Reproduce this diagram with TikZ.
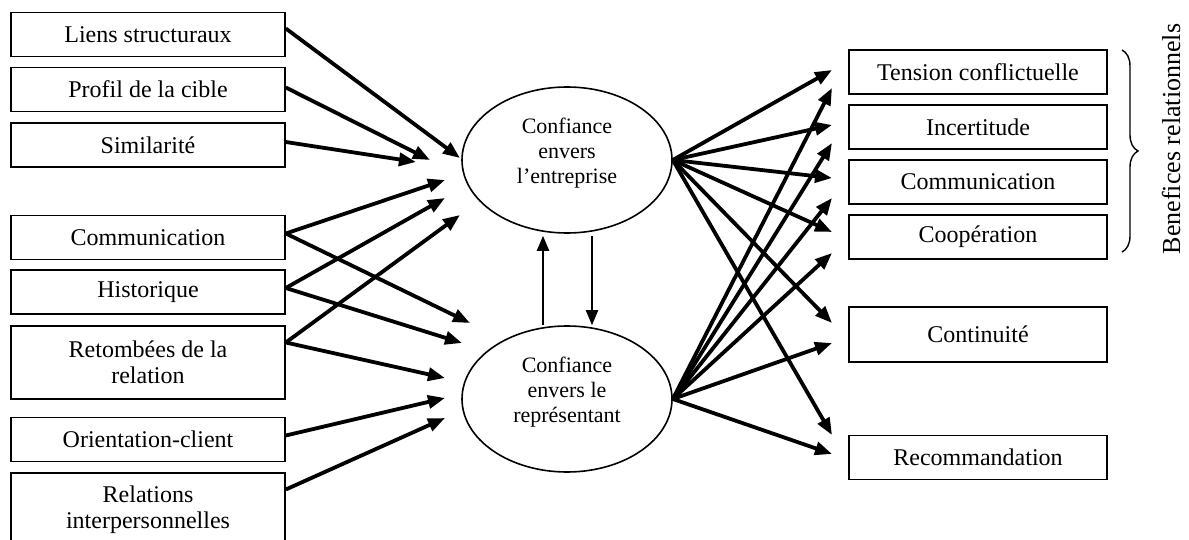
\documentclass[tikz,border=0pt]{standalone}
\usepackage{fontspec}
\setmainfont{Liberation Serif}
\usetikzlibrary{arrows.meta,shapes.geometric,decorations.pathreplacing}

\begin{document}
\begin{tikzpicture}[
  x=0.5pt, y=-0.5pt,
  box/.style={
    draw, line width=0.8pt, minimum width=137pt, minimum height=22pt,
    inner sep=1pt, align=center, font=\fontsize{12}{13}\selectfont
  },
  tallbox/.style={box, minimum height=36.5pt},
  goalbox/.style={box, minimum width=129pt},
  latent/.style={
    draw, ellipse, line width=0.8pt, minimum width=105pt, minimum height=73pt,
    align=center, text depth=9pt, font=\fontsize{11}{12.5}\selectfont
  },
  flow/.style={-{Triangle[length=8.5pt,width=6.5pt]}, line width=1.9pt},
  feedback/.style={-{Triangle[length=7.5pt,width=6pt]}, line width=1.1pt}
]
\useasboundingbox (0,0) rectangle (1189,540);

% Antecedents on the left rail.
\node[box]     (liens)    at (148,34.5)  {Liens structuraux};
\node[box]     (profil)   at (148,89.5)  {Profil de la cible};
\node[box]     (simil)    at (148,145)   {Similarité};
\node[box]     (comm)     at (148,237.5) {Communication};
\node[box]     (histo)    at (148,292)   {Historique};
\node[tallbox] (retomb)   at (148,362.5) {Retombées de la\\relation};
\node[box]     (orient)   at (148,439.5) {Orientation-client};
\node[tallbox] (relinter) at (148,509.5) {Relations\\interpersonnelles};

% The two trust constructs.
\node[latent] (ce) at (567,160) {Confiance\\envers\\l’entreprise};
\node[latent] (cr) at (567,399) {Confiance\\envers le\\représentant};

% Outcomes on the right rail.
\node[goalbox] (tension) at (978,72)  {Tension conflictuelle};
\node[goalbox] (incert)  at (978,127) {Incertitude};
\node[goalbox] (commr)   at (978,182) {Communication};
\node[goalbox] (coop)    at (978,237) {Coopération};
\node[goalbox, minimum height=27.5pt] (contin) at (978,334.5) {Continuité};
\node[goalbox] (recom)   at (978,457.5) {Recommandation};

% Brace grouping the relational benefits.
\draw[line width=0.7pt, decorate, decoration={brace, amplitude=8pt}]
  (1122,50) -- (1122,252);
\node[rotate=90, font=\fontsize{13}{15}\selectfont] (benef) at (1171,139)
  {Benefices relationnels};

% Arrow tips stop short of the ellipses.
\coordinate (aliens)  at (460,158);
\coordinate (aprofil) at (430,160);
\coordinate (asimil)  at (416,162);
\coordinate (acommu)  at (445,180);
\coordinate (ahistu)  at (445,198);
\coordinate (aretu)   at (460,215);
\coordinate (acommd)  at (470,323);
\coordinate (ahistd)  at (462,343);
\coordinate (aretd)   at (445,378);
\coordinate (aorient) at (445,398);
\coordinate (arelint) at (445,418);

\draw[flow] ([yshift=3pt]liens.east)     -- (aliens);
\draw[flow] ([yshift=1pt]profil.east)    -- (aprofil);
\draw[flow] ([yshift=1.5pt]simil.east)   -- (asimil);
\draw[flow] ([yshift=2pt]comm.east)      -- (acommu);
\draw[flow] ([yshift=2pt]comm.east)      -- (acommd);
\draw[flow] ([yshift=2pt]histo.east)     -- (ahistu);
\draw[flow] ([yshift=2pt]histo.east)     -- (ahistd);
\draw[flow] ([yshift=10pt]retomb.east)   -- (aretu);
\draw[flow] ([yshift=10pt]retomb.east)   -- (aretd);
\draw[flow] ([yshift=2pt]orient.east)    -- (aorient);
\draw[flow] ([yshift=10pt]relinter.east) -- (arelint);

% Reciprocal link between the two kinds of trust.
\draw[feedback] ([xshift=-12pt]cr.north) -- ([xshift=-12pt,yshift=-1pt]ce.south);
\draw[feedback] ([xshift=12.5pt,yshift=-1pt]ce.south) -- ([xshift=12.5pt]cr.north);

% Both constructs feed every outcome.
\foreach \ya/\yb [count=\i] in {70/88, 125/143, 178/198, 232/253, 323/343, 435/454} {
  \coordinate (ta\i) at (832,\ya);
  \coordinate (tb\i) at (832,\yb);
  \draw[flow] (ce.east) -- (ta\i);
  \draw[flow] (cr.east) -- (tb\i);
}

\end{tikzpicture}
\end{document}
